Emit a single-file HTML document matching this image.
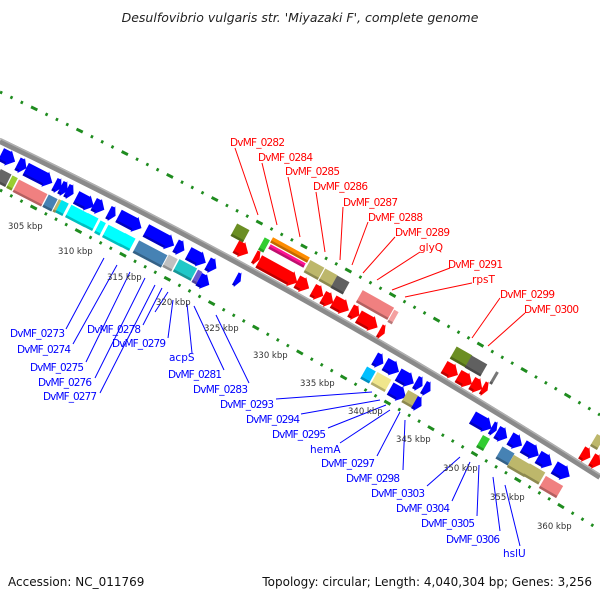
<!DOCTYPE html>
<html><head><meta charset="utf-8"><style>
html,body{margin:0;padding:0;background:#fff;}
svg{display:block;}
text{font-family:"DejaVu Sans","Liberation Sans",sans-serif;}
</style></head><body>
<svg id="s" width="600" height="600" viewBox="0 0 600 600" xmlns="http://www.w3.org/2000/svg">
<text x="300" y="22" text-anchor="middle" font-size="12.5" font-style="italic" fill="#222">Desulfovibrio vulgaris str. 'Miyazaki F', complete genome</text>
<path d="M0,92 Q300,235 600,415" fill="none" stroke="#1f8c1f" stroke-width="3" stroke-dasharray="2.5 9 2.5 9 2.5 9 7 9"/>
<path d="M0,190 Q300,345 600,530" fill="none" stroke="#1f8c1f" stroke-width="3" stroke-dasharray="2.5 9 2.5 9 2.5 9 7 9"/>
<path d="M0,141 Q300,285 600,477" fill="none" stroke="#8a8a8a" stroke-width="6"/>
<path d="M0,138.5 Q300,282.5 600,474.5" fill="none" stroke="#b0b0b0" stroke-width="1.5"/>
<g id="genes"></g>
<g stroke="#ff0000" stroke-width="1" fill="none">
<line x1="235" y1="148" x2="258" y2="215"/><line x1="262" y1="163" x2="277" y2="225"/>
<line x1="288" y1="177" x2="300" y2="237"/><line x1="316" y1="192" x2="325" y2="252"/>
<line x1="343" y1="207" x2="340" y2="260"/><line x1="368" y1="222" x2="352" y2="265"/>
<line x1="395" y1="237" x2="363" y2="273"/><line x1="420" y1="252" x2="377" y2="280"/>
<line x1="450" y1="268" x2="392" y2="290"/><line x1="472" y1="283" x2="405" y2="297"/>
<line x1="500" y1="298" x2="472" y2="338"/><line x1="525" y1="313" x2="488" y2="346"/>
</g>
<g fill="#ff0000" font-size="10.5">
<text x="230" y="146" textLength="55">DvMF_0282</text><text x="258" y="161" textLength="55">DvMF_0284</text>
<text x="285" y="175" textLength="55">DvMF_0285</text><text x="313" y="190" textLength="55">DvMF_0286</text>
<text x="343" y="206" textLength="55">DvMF_0287</text><text x="368" y="221" textLength="55">DvMF_0288</text>
<text x="395" y="236" textLength="55">DvMF_0289</text><text x="419" y="251">glyQ</text>
<text x="448" y="268" textLength="55">DvMF_0291</text><text x="472" y="283">rpsT</text>
<text x="500" y="298" textLength="55">DvMF_0299</text><text x="524" y="313" textLength="55">DvMF_0300</text>
</g>
<g stroke="#0000ff" stroke-width="1" fill="none">
<line x1="66" y1="329" x2="104" y2="258"/><line x1="73" y1="344" x2="117" y2="265"/>
<line x1="86" y1="362" x2="130" y2="272"/><line x1="95" y1="378" x2="145" y2="278"/>
<line x1="100" y1="393" x2="155" y2="285"/><line x1="143" y1="325" x2="162" y2="288"/>
<line x1="155" y1="312" x2="168" y2="292"/><line x1="168" y1="338" x2="173" y2="300"/>
<line x1="192" y1="353" x2="187" y2="304"/><line x1="224" y1="370" x2="194" y2="306"/>
<line x1="249" y1="383" x2="216" y2="315"/>
<line x1="276" y1="399" x2="372" y2="392"/><line x1="301" y1="414" x2="380" y2="400"/>
<line x1="328" y1="428" x2="386" y2="405"/><line x1="340" y1="443" x2="390" y2="410"/>
<line x1="377" y1="456" x2="400" y2="412"/><line x1="403" y1="470" x2="405" y2="420"/>
<line x1="427" y1="486" x2="460" y2="457"/><line x1="452" y1="501" x2="470" y2="462"/>
<line x1="477" y1="516" x2="479" y2="465"/><line x1="500" y1="531" x2="493" y2="477"/>
<line x1="520" y1="546" x2="505" y2="485"/>
</g>
<g fill="#0000ff" font-size="10.5">
<text x="10" y="337" textLength="55">DvMF_0273</text><text x="17" y="353" textLength="54">DvMF_0274</text>
<text x="30" y="371" textLength="54">DvMF_0275</text><text x="38" y="386" textLength="54">DvMF_0276</text>
<text x="43" y="400" textLength="54">DvMF_0277</text><text x="87" y="333" textLength="54">DvMF_0278</text>
<text x="112" y="347" textLength="54">DvMF_0279</text><text x="169" y="361">acpS</text>
<text x="168" y="378" textLength="54">DvMF_0281</text><text x="193" y="393" textLength="55">DvMF_0283</text>
<text x="220" y="408" textLength="54">DvMF_0293</text><text x="246" y="423" textLength="54">DvMF_0294</text>
<text x="272" y="438" textLength="54">DvMF_0295</text><text x="310" y="453">hemA</text>
<text x="321" y="467" textLength="54">DvMF_0297</text><text x="346" y="482" textLength="54">DvMF_0298</text>
<text x="371" y="497" textLength="54">DvMF_0303</text><text x="396" y="512" textLength="54">DvMF_0304</text>
<text x="421" y="527" textLength="54">DvMF_0305</text><text x="446" y="543" textLength="54">DvMF_0306</text>
<text x="503" y="557">hslU</text>
</g>
<g fill="#333" font-size="8.5">
<text x="8" y="229">305 kbp</text><text x="58" y="254">310 kbp</text><text x="107" y="280">315 kbp</text>
<text x="156" y="305">320 kbp</text><text x="204" y="331">325 kbp</text><text x="253" y="358">330 kbp</text>
<text x="300" y="386">335 kbp</text><text x="348" y="414">340 kbp</text><text x="396" y="442">345 kbp</text>
<text x="443" y="471">350 kbp</text><text x="490" y="500">355 kbp</text><text x="537" y="529">360 kbp</text>
</g>
<text x="8" y="586" font-size="12" fill="#111">Accession: NC_011769</text>
<text x="592" y="586" font-size="12" fill="#111" text-anchor="end">Topology: circular; Length: 4,040,304 bp; Genes: 3,256</text>
</svg>
<script>
var B='#0000ff',R='#ff0000';
var G=[
[8,158,16,'a',B],[22,166,10,'a',B],[39,176,30,'a',B],[58,186,8,'a',B],[64,189,8,'a',B],[70,192,8,'a',B],
[85,202,20,'a',B],[99,207,12,'a',B],[112,214,8,'a',B],[130,222,26,'a',B],[160,238,32,'a',B],[180,248,10,'a',B],
[197,258,20,'a',B],[212,266,10,'a',B],
[3,178,12,'b','#666'],[12,183,6,'b','#9acd32'],[30,193,32,'b','#f08080'],[50,203,10,'b','#4682b4'],[57,206,3,'b','#bdb76b'],
[62,208,8,'b','#00e5ee'],[78,216,22,'b','#00ffff'],[90,222,12,'b','#00ffff'],[100,228,6,'b','#00ffff'],
[115,236,22,'b','#00ffff'],[127,242,12,'b','#00ffff'],[150,254,32,'b','#4682b4'],[170,263,10,'b','#c0c0c0'],
[185,270,20,'b','#20c8c8'],[197,277,5,'b','#6a5acd'],[204,282,12,'a',B],[238,280,6,'a',B],
[240,233,14,'b','#6b8e23'],[242,250,14,'a',R],[257,258,6,'a',R],[264,245,6,'b','#32cd32'],
[290,250,42,'b','#ff8c00',6],[287,256,40,'b','#ff1493',5],[278,272,44,'a',R],
[314,270,16,'b','#bdb76b'],[303,285,14,'a',R],[328,278,14,'b','#bdb76b'],[340,285,14,'b','#606060'],
[318,293,12,'a',R],[328,300,12,'a',R],[341,306,18,'a',R],[355,313,10,'a',R],[368,322,22,'a',R],[382,332,6,'a',R],
[375,305,36,'b','#f08080'],[393,317,5,'b','#f4a0a0'],
[461,357,18,'b','#6b8e23'],[476,366,18,'b','#606060'],[451,371,16,'a',R],[465,380,16,'a',R],[477,386,12,'a',R],[485,389,6,'a',R],
[494,378,3,'b','#777'],
[379,361,10,'a',B],[392,368,16,'a',B],[406,379,18,'a',B],[419,384,8,'a',B],[427,389,8,'a',B],
[368,375,10,'b','#00bfff'],[381,382,16,'b','#f0e68c'],[398,393,18,'a',B],[410,399,12,'b','#bdb76b'],[418,404,8,'a',B],
[482,423,22,'a',B],[494,429,6,'a',B],[502,435,12,'a',B],[516,442,14,'a',B],[531,451,18,'a',B],[545,461,16,'a',B],[562,472,18,'a',B],
[483,443,8,'b','#32cd32'],[505,456,14,'b','#4682b4'],[519,466,20,'b','#bdb76b'],[534,474,18,'b','#bdb76b'],[551,487,20,'b','#f08080'],
[586,455,10,'a',R],[596,462,10,'a',R],[597,442,8,'b','#bdb76b']
];
var g=document.getElementById('genes'),out='';
G.forEach(function(e){
 var x=e[0],y=e[1],L=e[2],h=e[5]||14,r=27+x*0.006,hl=L/2,hh=h/2,shape;
 if(e[3]=='a'){var t=Math.min(8,L*0.6),w=hh+1.5;
  shape='<polygon points="'+(-hl)+','+(-hh)+' '+(hl-t)+','+(-hh)+' '+(hl-t)+','+(-w)+' '+hl+',0 '+(hl-t)+','+w+' '+(hl-t)+','+hh+' '+(-hl)+','+hh+'" fill="'+e[4]+'"/>'+
  '<polygon points="'+(-hl)+','+(hh-2.5)+' '+(hl-t)+','+(hh-2.5)+' '+(hl-t)+','+hh+' '+(-hl)+','+hh+'" fill="#000" opacity="0.25"/>';
 } else {
  shape='<rect x="'+(-hl)+'" y="'+(-hh)+'" width="'+L+'" height="'+h+'" fill="'+e[4]+'"/>'+
  '<rect x="'+(-hl)+'" y="'+(hh-2.5)+'" width="'+L+'" height="2.5" fill="#000" opacity="0.25"/>';
 }
 out+='<g transform="translate('+x+' '+y+') rotate('+r.toFixed(1)+')">'+shape+'</g>';
});
g.innerHTML=out;
</script>
</body></html>
